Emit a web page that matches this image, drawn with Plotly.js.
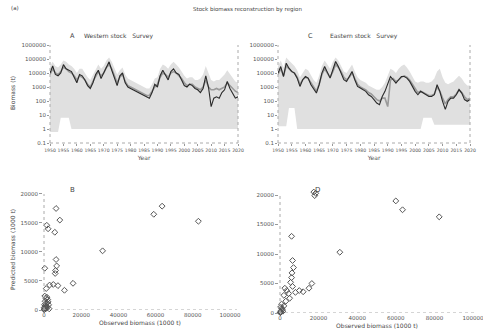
<!DOCTYPE html>
<html><head><meta charset="utf-8">
<script src="https://cdn.plot.ly/plotly-3.0.1.min.js"></script>
<style>html,body{margin:0;padding:0;background:#fff}#chart{width:483px;height:336px}</style>
</head><body><div id="chart"></div>
<script>
const years = [1950,1951,1952,1953,1954,1955,1956,1957,1958,1959,1960,1961,1962,1963,1964,1965,1966,1967,1968,1969,1970,1971,1972,1973,1974,1975,1976,1977,1978,1979,1980,1981,1982,1983,1984,1985,1986,1987,1988,1989,1990,1991,1992,1993,1994,1995,1996,1997,1998,1999,2000,2001,2002,2003,2004,2005,2006,2007,2008,2009,2010,2011,2012,2013,2014,2015,2016,2017,2018,2019,2020];

// Panel A
const obsA = [10000,31600,7900,6300,10000,39800,20000,15800,12600,5000,2000,7900,6300,3200,1260,790,2000,7900,15800,4000,10000,31600,63000,15800,5000,1260,6300,10000,2000,1000,790,630,500,400,320,250,200,160,400,1580,1000,6300,15800,6300,3200,12600,20000,10000,7900,3200,1260,1000,1580,1260,790,630,400,790,6300,1000,40,160,200,160,400,630,2500,790,320,160,200];
const fitA = [7900,20000,10000,7900,12600,25100,20000,12600,10000,6300,3200,6300,5000,3200,1580,1000,2500,6300,12600,6300,10000,25100,39800,20000,6300,2000,5000,7900,2500,1260,1000,790,630,500,400,320,250,250,500,1000,1580,5000,10000,7900,5000,10000,12600,10000,6300,4000,2000,1260,1580,1580,1000,790,630,1000,3200,1000,630,630,790,630,790,1000,2000,1260,790,500,400];
const upA = [31600,63100,31600,25100,39800,79400,63100,39800,31600,20000,10000,20000,20000,10000,5000,3160,7940,20000,39800,20000,31600,79400,126000,63100,20000,7940,15800,25100,7940,3980,3160,2510,2000,1580,1260,1000,794,794,1580,3980,5000,20000,39800,31600,20000,39800,63100,39800,25100,12600,6310,3980,5000,5000,3160,3160,3980,7940,31600,10000,3160,2510,3160,3160,5000,7940,15800,7940,3980,2510,2000];
const lowA = [0.6,0.6,0.6,0.6,6.3,6.3,6.3,6.3,1,1,1,1,1,1,1,1,1,1,1,1,1,1,1,1,1,1,1,1,1,1,1,1,1,1,1,1,1,1,1,1,1,1,1,1,1,1,1,1,1,1,1,1,1,1,1,1,1,1,1,1,1,1,1,1,1,1,1,1,1,1,1];

// Panel C
const obsC = [9800,28800,5600,50100,21900,12900,9800,4300,1100,3300,5600,4300,1450,650,370,1450,9800,28800,9800,4300,17000,66100,28800,9800,3300,2500,5600,12900,3300,1100,850,650,490,280,210,126,72,55,210,490,1450,5600,3300,1900,3300,5600,5600,4300,2500,1100,490,280,490,370,280,210,210,280,1450,490,95,25,95,160,160,280,650,370,126,95,126];
const fitC = [7900,20000,6300,31600,20000,12600,10000,5000,1580,3200,5000,4000,2000,1000,500,1580,7900,20000,10000,5000,12600,39800,25100,12600,5000,3200,5000,10000,4000,1580,1000,790,630,400,320,200,126,100,160,160,40,3200,4000,2500,3200,5000,6300,5000,3200,1580,790,400,500,400,320,250,250,320,1000,500,160,63,126,200,200,320,630,400,200,126,160];
const upC = [31600,79400,25100,126000,79400,50100,31600,15800,5000,10000,20000,15800,6310,3160,2000,6310,31600,79400,39800,20000,63100,126000,79400,31600,12600,10000,20000,39800,12600,5000,3160,2510,2000,1260,1000,794,631,631,1000,2000,6310,20000,15800,10000,20000,31600,39800,25100,12600,5000,2510,2000,2510,2510,2000,2000,2510,3980,12600,20000,5000,2000,1580,2000,2510,3980,6310,3980,2000,1260,1260];
const lowC = [1.6,1.6,1.6,1.6,32,32,32,1,1,1,1,1,1,1,1,1,1,1,1,1,1,1,1,1,1,1,1,1,1,1,1,1,1,1,1,1,1,1,1,1,1,1,1,1,1,1,1,1,1,1,1,1,1,6.3,6.3,6.3,6.3,2,2,2,2,2,2,2,2,2,2,2,2,2,2];

// Panel B scatter
const obsB = [200,500,800,1200,300,1500,600,1000,2000,400,1800,2500,100,700,1300,900,1600,2200,50,2800,1500,2200,5800,6500,8500,6500,6800,6200,400,6000,3000,5000,7500,11000,15600,1200,31500,59000,63500,83000];
const predB = [100,300,200,600,900,1200,1500,2000,1800,2400,500,900,50,700,300,1100,2200,1400,400,200,14600,14000,13400,17500,15500,8700,7600,6800,7200,6300,4300,4400,4200,3400,4600,3700,10200,16500,17900,15300];

// Panel D scatter
const obsD = [17500,18500,18000,60000,63500,82500,31000,6000,6500,7000,6200,6000,5500,6500,16500,15000,2500,3500,4500,2000,8000,10000,12000,5000,3000,200,600,1000,1500,300,800,1200,2000,400,100];
const predD = [20500,20300,19900,19000,17500,16300,10300,13000,8900,7700,6800,6000,5200,4500,5000,4200,4200,3800,3300,3000,3500,3800,3600,2500,2000,100,400,800,300,1000,1500,600,1200,200,50];

const logTicks = [0.1,1,10,100,1000,10000,100000,1000000];
const logText = ['0.1','1','10','100','1000','10000','100000','1000000'];
const yearTicks = [1950,1955,1960,1965,1970,1975,1980,1985,1990,1995,2000,2005,2010,2015,2020];
const linTicks = [0,20000,40000,60000,80000,100000];
const linYTicks = [0,5000,10000,15000,20000];

const bandFill = '#e0e0e0';
const tickFont = {family:'DejaVu Sans', size:5.5, color:'#555'};
const yearFont = {family:'DejaVu Sans', size:4.6, color:'#555'};

function bandTraces(lo, up, fit, obs, xa, ya){
  return [
    {x:years, y:lo, xaxis:xa, yaxis:ya, mode:'lines', line:{width:0, color:bandFill}, hoverinfo:'skip', showlegend:false},
    {x:years, y:up, xaxis:xa, yaxis:ya, mode:'lines', fill:'tonexty', fillcolor:bandFill, line:{width:0, color:bandFill}, showlegend:false},
    {x:years, y:fit, xaxis:xa, yaxis:ya, mode:'lines', line:{width:1.6, color:'#9a9a9a'}, showlegend:false},
    {x:years, y:obs, xaxis:xa, yaxis:ya, mode:'lines', line:{width:1.1, color:'#2a2a2a'}, showlegend:false}
  ];
}

const data = [].concat(
  bandTraces(lowA, upA, fitA, obsA, 'x', 'y'),
  bandTraces(lowC, upC, fitC, obsC, 'x2', 'y2'),
  [{x:obsB, y:predB, xaxis:'x3', yaxis:'y3', mode:'markers', cliponaxis:false,
    marker:{symbol:'diamond-open', size:4.5, color:'#555', line:{width:1}}, showlegend:false},
   {x:obsD, y:predD, xaxis:'x4', yaxis:'y4', mode:'markers', cliponaxis:false,
    marker:{symbol:'diamond-open', size:4.5, color:'#555', line:{width:1}}, showlegend:false}]
);

const topX = (dom, anchor) => ({domain:dom, anchor:anchor, range:[1950,2020], tickvals:yearTicks, ticktext:yearTicks.map(String),
  tickfont:yearFont, showgrid:false, zeroline:false, showline:false, ticks:'outside', ticklen:2, tickcolor:'#999', tickangle:0,
  ticklabeloverflow:'allow',
  title:{text:'Year', font:{family:'DejaVu Sans', size:6, color:'#555'}, standoff:4}});
const topY = (dom, anchor) => ({domain:dom, anchor:anchor, type:'log', range:[-1,6], tickvals:logTicks, ticktext:logText,
  tickfont:tickFont, showgrid:false, zeroline:false, showline:false, ticks:'outside', ticklen:2, tickcolor:'#999',
  ticklabeloverflow:'allow'});
const botX = (dom, anchor, rng) => ({domain:dom, anchor:anchor, range:rng, tickvals:linTicks, ticktext:linTicks.map(String),
  tickfont:tickFont, showgrid:false, zeroline:false, showline:false, ticks:'', tickangle:0, ticklabeloverflow:'allow',
  title:{text:'Observed biomass (1000 t)', font:{family:'DejaVu Sans', size:6, color:'#444'}, standoff:4}});
const botY = (dom, anchor, rng) => ({domain:dom, anchor:anchor, range:rng, tickvals:linYTicks, ticktext:linYTicks.map(String),
  tickfont:tickFont, showgrid:false, zeroline:false, showline:false, ticks:'outside', ticklen:3, tickcolor:'#999',
  ticklabeloverflow:'allow'});

const dotLine = {color:'#aaa', width:1, dash:'dot'};
function frame(xa, ya){
  return [
    {type:'line', xref:xa+' domain', yref:ya+' domain', x0:0, x1:0, y0:0, y1:1, line:dotLine},
    {type:'line', xref:xa+' domain', yref:ya+' domain', x0:0, x1:1, y0:0, y1:0, line:dotLine},
    {type:'line', xref:xa+' domain', yref:ya+' domain', x0:1, x1:1, y0:0, y1:1, line:dotLine}
  ];
}
function axesLines(xa, ya){
  return [
    {type:'line', xref:xa, yref:ya+' domain', x0:0, x1:0, y0:0, y1:0.95, line:dotLine},
    {type:'line', xref:xa+' domain', yref:ya, x0:0, x1:1, y0:0, y1:0, line:dotLine}
  ];
}

const txt = (t, x, y, size, extra) => Object.assign({text:t, xref:'paper', yref:'paper', x:x/483, y:1-y/336, showarrow:false,
  font:{family:'DejaVu Sans', size:size, color:'#444'}, xanchor:'left', yanchor:'middle'}, extra||{});

const layout = {
  width:483, height:336, margin:{l:0, r:0, t:0, b:0}, paper_bgcolor:'#fff', plot_bgcolor:'#fff',
  showlegend:false,
  xaxis: topX([50/483, 238/483], 'y'),
  yaxis: topY([1-143/336, 1-45/336], 'x'),
  xaxis2: topX([278/483, 470/483], 'y2'),
  yaxis2: topY([1-143/336, 1-45/336], 'x2'),
  xaxis3: botX([43/483, 237/483], 'y3', [-540, 103760]),
  yaxis3: botY([1-310/336, 1-188/336], 'x3', [0, 21030]),
  xaxis4: botX([279/483, 475/483], 'y4', [-520, 101040]),
  yaxis4: botY([1-313/336, 1-188/336], 'x4', [0, 21190]),
  shapes: [].concat(frame('x','y'), frame('x2','y2'), axesLines('x3','y3'), axesLines('x4','y4')),
  annotations: [
    txt('(a)', 9, 8, 5.5),
    txt('Stock biomass reconstruction by region', 247, 9, 5.5, {xanchor:'center'}),
    txt('A', 68, 36, 6.5),
    txt('Western stock   Survey', 82, 36, 6),
    txt('C', 306, 36, 6.5),
    txt('Eastern stock   Survey', 328, 36, 6),
    txt('B', 68, 190, 7),
    txt('D', 313, 190, 7),
    txt('Biomass (t)', 12, 93, 6, {xanchor:'center', textangle:-90}),
    txt('Predicted biomass (1000 t)', 12, 250, 6, {xanchor:'center', textangle:-90})
  ]
};

Plotly.newPlot('chart', data, layout, {staticPlot:true, displayModeBar:false});
</script></body></html>
